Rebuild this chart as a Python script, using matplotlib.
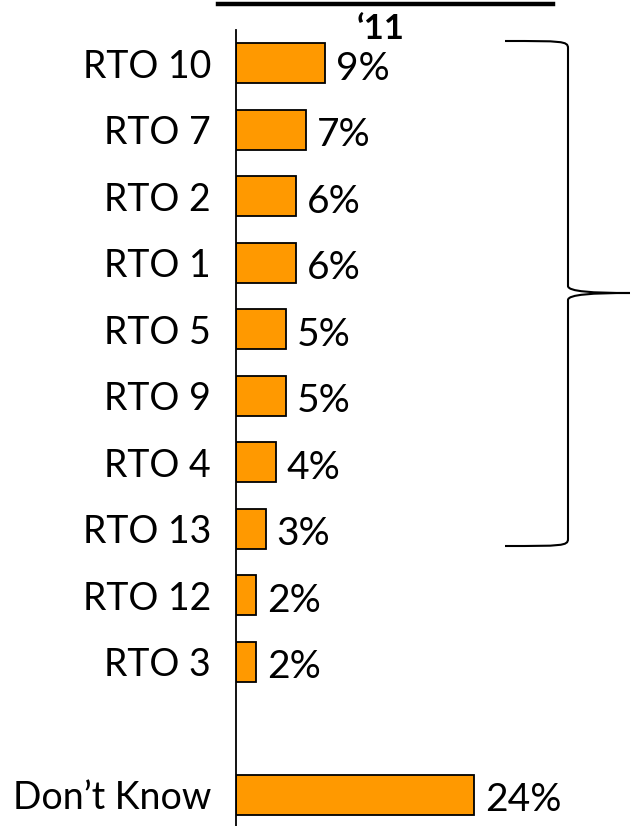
import numpy as np
import matplotlib
matplotlib.use("Agg")
import matplotlib.pyplot as plt
from matplotlib.path import Path
from matplotlib.patches import PathPatch
from matplotlib.lines import Line2D

plt.rcParams["font.family"] = ["Lato", "DejaVu Sans"]

# 데이터
categories = ["RTO 10", "RTO 7", "RTO 2", "RTO 1", "RTO 5", "RTO 9",
              "RTO 4", "RTO 13", "RTO 12", "RTO 3", "", "Don\u2019t Know"]
values = [9, 7, 6, 6, 5, 5, 4, 3, 2, 2, np.nan, 24]
year_label = "\u201811"

BAR_COLOR = "#FF9900"
W, H = 631, 826

fig = plt.figure(figsize=(W / 100, H / 100), dpi=100)


def fx(px):
    return px / W


def fy(py):
    return 1 - py / H


# 막대 영역: 0% 가 x=236px, 세로 범위 30~828px
ax = fig.add_axes([fx(236), fy(828), fx(534) - fx(236), fy(30) - fy(828)])
pos = np.arange(len(categories))
ax.barh(pos, values, height=0.6, color=BAR_COLOR, edgecolor="black", linewidth=1.3)
ax.set_xlim(0, 30)
ax.set_ylim(len(categories) - 0.5, -0.5)
ax.set_yticks(pos)
ax.set_yticklabels(categories, fontsize=27)
ax.tick_params(axis="y", length=0, pad=18)
ax.set_xticks([])
for side in ("top", "right", "bottom"):
    ax.spines[side].set_visible(False)
ax.spines["left"].set_linewidth(1.3)

for p, v in zip(pos, values):
    if np.isnan(v):
        continue
    ax.text(v + 1.1, p + 0.08, f"{v:.0f}%", va="center", ha="left", fontsize=28)

# 위쪽 굵은 선과 연도 라벨
fig.add_artist(Line2D([fx(218), fx(553)], [fy(4), fy(4)], color="black", lw=3.2))
fig.text(fx(381), fy(29), year_label, ha="center", va="center",
         fontsize=25, fontweight="bold")

# 오른쪽 중괄호
x0, xv, xt = fx(505), fx(568), fx(630)
y_top, y_mid, y_bot = fy(41), fy(293), fy(546)
dy = 7 / H
verts = [
    (x0, y_top), (xv - 0.1 * (xv - x0), y_top), (xv, y_top), (xv, y_top - dy),
    (xv, y_mid + dy),
    (xv, y_mid + 0.2 * dy), (xv + 0.4 * (xt - xv), y_mid), (xt, y_mid),
    (xv + 0.4 * (xt - xv), y_mid), (xv, y_mid - 0.2 * dy), (xv, y_mid - dy),
    (xv, y_bot + dy),
    (xv, y_bot), (xv - 0.1 * (xv - x0), y_bot), (x0, y_bot),
]
codes = [Path.MOVETO, Path.CURVE4, Path.CURVE4, Path.CURVE4,
         Path.LINETO,
         Path.CURVE4, Path.CURVE4, Path.CURVE4,
         Path.CURVE4, Path.CURVE4, Path.CURVE4,
         Path.LINETO,
         Path.CURVE4, Path.CURVE4, Path.CURVE4]
brace = PathPatch(Path(verts, codes), transform=fig.transFigure,
                  facecolor="none", edgecolor="black", lw=1.5)
fig.add_artist(brace)

fig.savefig("out.png", dpi=100)
